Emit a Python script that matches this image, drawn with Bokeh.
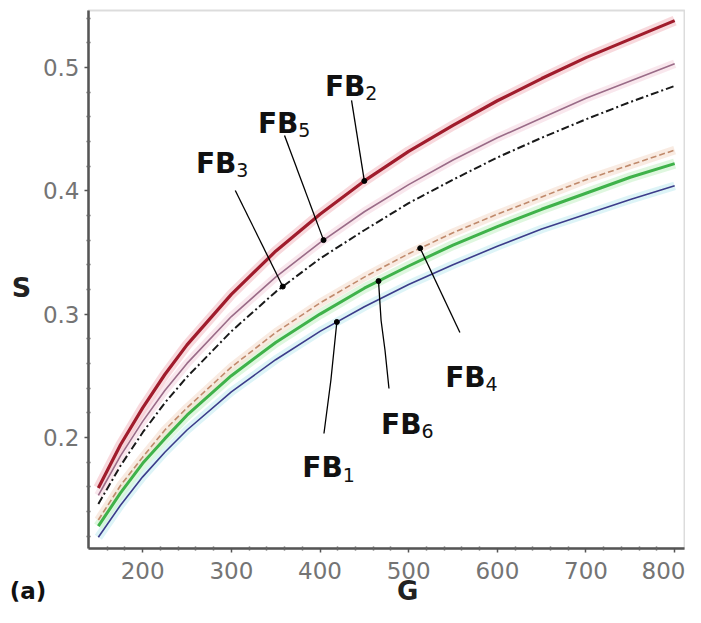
import numpy as np
from bokeh.plotting import figure
from bokeh.models import Range1d, FixedTicker, Label, BoxAnnotation
from bokeh.embed import file_html
from bokeh.resources import INLINE

# ---- data ----
G = [150, 175, 200, 225, 250, 300, 350, 400, 450, 500, 550, 600, 650, 700, 750, 800]
FB1 = [0.119, 0.145, 0.168, 0.188, 0.206, 0.237, 0.263, 0.286, 0.306, 0.324, 0.340, 0.355, 0.369, 0.381, 0.393, 0.404]
FB2 = [0.159, 0.194, 0.224, 0.251, 0.275, 0.316, 0.351, 0.381, 0.408, 0.432, 0.453, 0.473, 0.491, 0.508, 0.523, 0.538]
FB3 = [0.146, 0.177, 0.204, 0.228, 0.249, 0.286, 0.318, 0.345, 0.368, 0.390, 0.409, 0.427, 0.443, 0.458, 0.472, 0.485]
FB4 = [0.133, 0.161, 0.184, 0.206, 0.224, 0.257, 0.285, 0.309, 0.330, 0.349, 0.366, 0.381, 0.395, 0.409, 0.421, 0.433]
FB5 = [0.153, 0.185, 0.213, 0.238, 0.260, 0.298, 0.330, 0.358, 0.383, 0.405, 0.425, 0.443, 0.459, 0.475, 0.489, 0.503]
FB6 = [0.128, 0.155, 0.179, 0.199, 0.218, 0.250, 0.277, 0.300, 0.321, 0.339, 0.356, 0.371, 0.385, 0.398, 0.411, 0.422]

x_ticks = [200, 300, 400, 500, 600, 700, 800]
x_minor = [160, 180, 220, 240, 260, 280, 320, 340, 360, 380, 420, 440, 460, 480,
           520, 540, 560, 580, 620, 640, 660, 680, 720, 740, 760, 780]
y_ticks = [0.2, 0.3, 0.4, 0.5]
y_minor = [0.12, 0.14, 0.16, 0.18, 0.22, 0.24, 0.26, 0.28, 0.32, 0.34, 0.36, 0.38,
           0.42, 0.44, 0.46, 0.48, 0.52, 0.54]

# ---- geometry: plot box edges (data) and where they sit on the canvas ----
XL, XR = 138.9, 811.1      # box left / right in G
YB, YT = 0.1099, 0.5462    # box bottom / top in S
W, H = 685, 607
BOX_L, BOX_R, BOX_T, BOX_B = 88, 684, 10, 548   # canvas pixels of the box
kx = (BOX_R - BOX_L) / (XR - XL)
ky = (BOX_B - BOX_T) / (YT - YB)
x_range = Range1d(XL - BOX_L / kx, XR + (W - BOX_R) / kx)
y_range = Range1d(YB - (H - BOX_B) / ky, YT + BOX_T / ky)

p = figure(width=W, height=H, x_range=x_range, y_range=y_range,
           output_backend="svg", toolbar_location=None,
           min_border_left=0, min_border_right=0, min_border_top=0, min_border_bottom=0)
p.grid.visible = False
p.outline_line_color = None
p.background_fill_color = "white"
p.border_fill_color = "white"


def px(xp, yp):
    """reference-picture pixel -> data coordinates"""
    return XL + (xp - 88) / 0.9, 0.5 - (yp - 67) / 1233.0


box = BoxAnnotation(left=XL, right=XR, bottom=YB, top=YT, fill_color=None,
                    line_color="#8c8c8c", line_width=2, level="underlay")
p.add_layout(box)

p.xaxis.fixed_location = YB
p.yaxis.fixed_location = XL
p.xaxis.bounds = (XL, XR)
p.yaxis.bounds = (YB, YT)
for ax in (p.xaxis[0], p.yaxis[0]):
    ax.axis_line_color = "#555555"
    ax.axis_line_width = 2.5
    ax.major_tick_line_color = "#555555"
    ax.major_tick_line_width = 1.5
    ax.minor_tick_line_color = "#666666"
    ax.minor_tick_line_width = 1.5
    ax.major_tick_in = 0
    ax.major_tick_out = 4
    ax.minor_tick_in = 2
    ax.minor_tick_out = 2
    ax.major_label_text_font = "DejaVu Sans"
    ax.major_label_text_font_size = "23px"
    ax.major_label_text_color = "#747474"

p.xaxis.ticker = FixedTicker(ticks=x_ticks, minor_ticks=x_minor)
p.yaxis.ticker = FixedTicker(ticks=y_ticks, minor_ticks=y_minor)
p.xaxis.major_label_standoff = 9
p.yaxis.major_label_standoff = 5

# ---- curves (halo first, then line) ----
series = {
    "FB1": (FB1, "#3c3c8a", 1.6, "solid", "#cfeff4"),
    "FB6": (FB6, "#3fb24a", 3.0, "solid", "#d2f3d2"),
    "FB4": (FB4, "#c08a6c", 1.6, "6 3", "#f6e2d6"),
    "FB3": (FB3, "#1a1a1a", 2.0, "8 3 2 3", None),
    "FB5": (FB5, "#9a6c88", 1.6, "solid", "#f6dde6"),
    "FB2": (FB2, "#a01c2c", 3.2, "solid", "#f5c9cf"),
}
for name, (ys, col, w, dash, halo) in series.items():
    if halo:
        p.line(G, ys, line_color=halo, line_width=w + 7, line_alpha=0.7)
for name, (ys, col, w, dash, halo) in series.items():
    p.line(G, ys, line_color=col, line_width=w, line_dash=dash)

# ---- labels with leader lines ----
notes = [
    # name, subscript, anchor G on the curve, leader points (ref px), text left/baseline (ref px)
    ("FB2", "2", 450, [(355, 100)], (328, 86)),
    ("FB5", "5", 404, [(287, 135)], (260, 123)),
    ("FB3", "3", 358, [(237, 190)], (197, 163)),
    ("FB4", "4", 513, [(465, 332)], (450, 377)),
    ("FB6", "6", 466, [(385, 320), (389, 350), (393, 388)], (385, 424)),
    ("FB1", "1", 419, [(334, 380), (327, 433)], (305, 467)),
]
for name, sub, ga, pts, (tx, ty) in notes:
    ys = series[name][0]
    sa = float(np.interp(ga, G, ys))
    xs = [ga] + [px(a, b)[0] for a, b in pts]
    yv = [sa] + [px(a, b)[1] for a, b in pts]
    p.line(xs, yv, line_color="black", line_width=1.3)
    p.scatter([ga], [sa], size=5, color="black")
    lx, ly = px(tx, ty)
    p.add_layout(Label(x=lx, y=ly, text="FB", text_font="DejaVu Sans", text_font_style="bold",
                       text_font_size="28px", text_color="#111111", text_baseline="alphabetic"))
    sx, sy = px(tx + 41, ty + 7)
    p.add_layout(Label(x=sx, y=sy, text=sub, text_font="DejaVu Sans",
                       text_font_size="19px", text_color="#111111", text_baseline="alphabetic"))

# axis titles and panel tag
sx_, sy_ = px(20, 287)
p.add_layout(Label(x=sx_, y=sy_, text="S", text_font="DejaVu Sans", text_font_style="bold",
                   text_font_size="27px", text_align="center", text_baseline="middle",
                   text_color="#222222"))
gx_, gy_ = px(412, 590)
p.add_layout(Label(x=gx_, y=gy_, text="G", text_font="DejaVu Sans", text_font_style="bold",
                   text_font_size="26px", text_align="center", text_baseline="middle",
                   text_color="#222222"))
ax_, ay_ = px(8, 590)
p.add_layout(Label(x=ax_, y=ay_, text="(a)", text_font="DejaVu Sans", text_font_style="bold",
                   text_font_size="23px", text_align="left", text_baseline="middle",
                   text_color="#111111"))

open("out.html", "w").write(file_html(p, INLINE))
